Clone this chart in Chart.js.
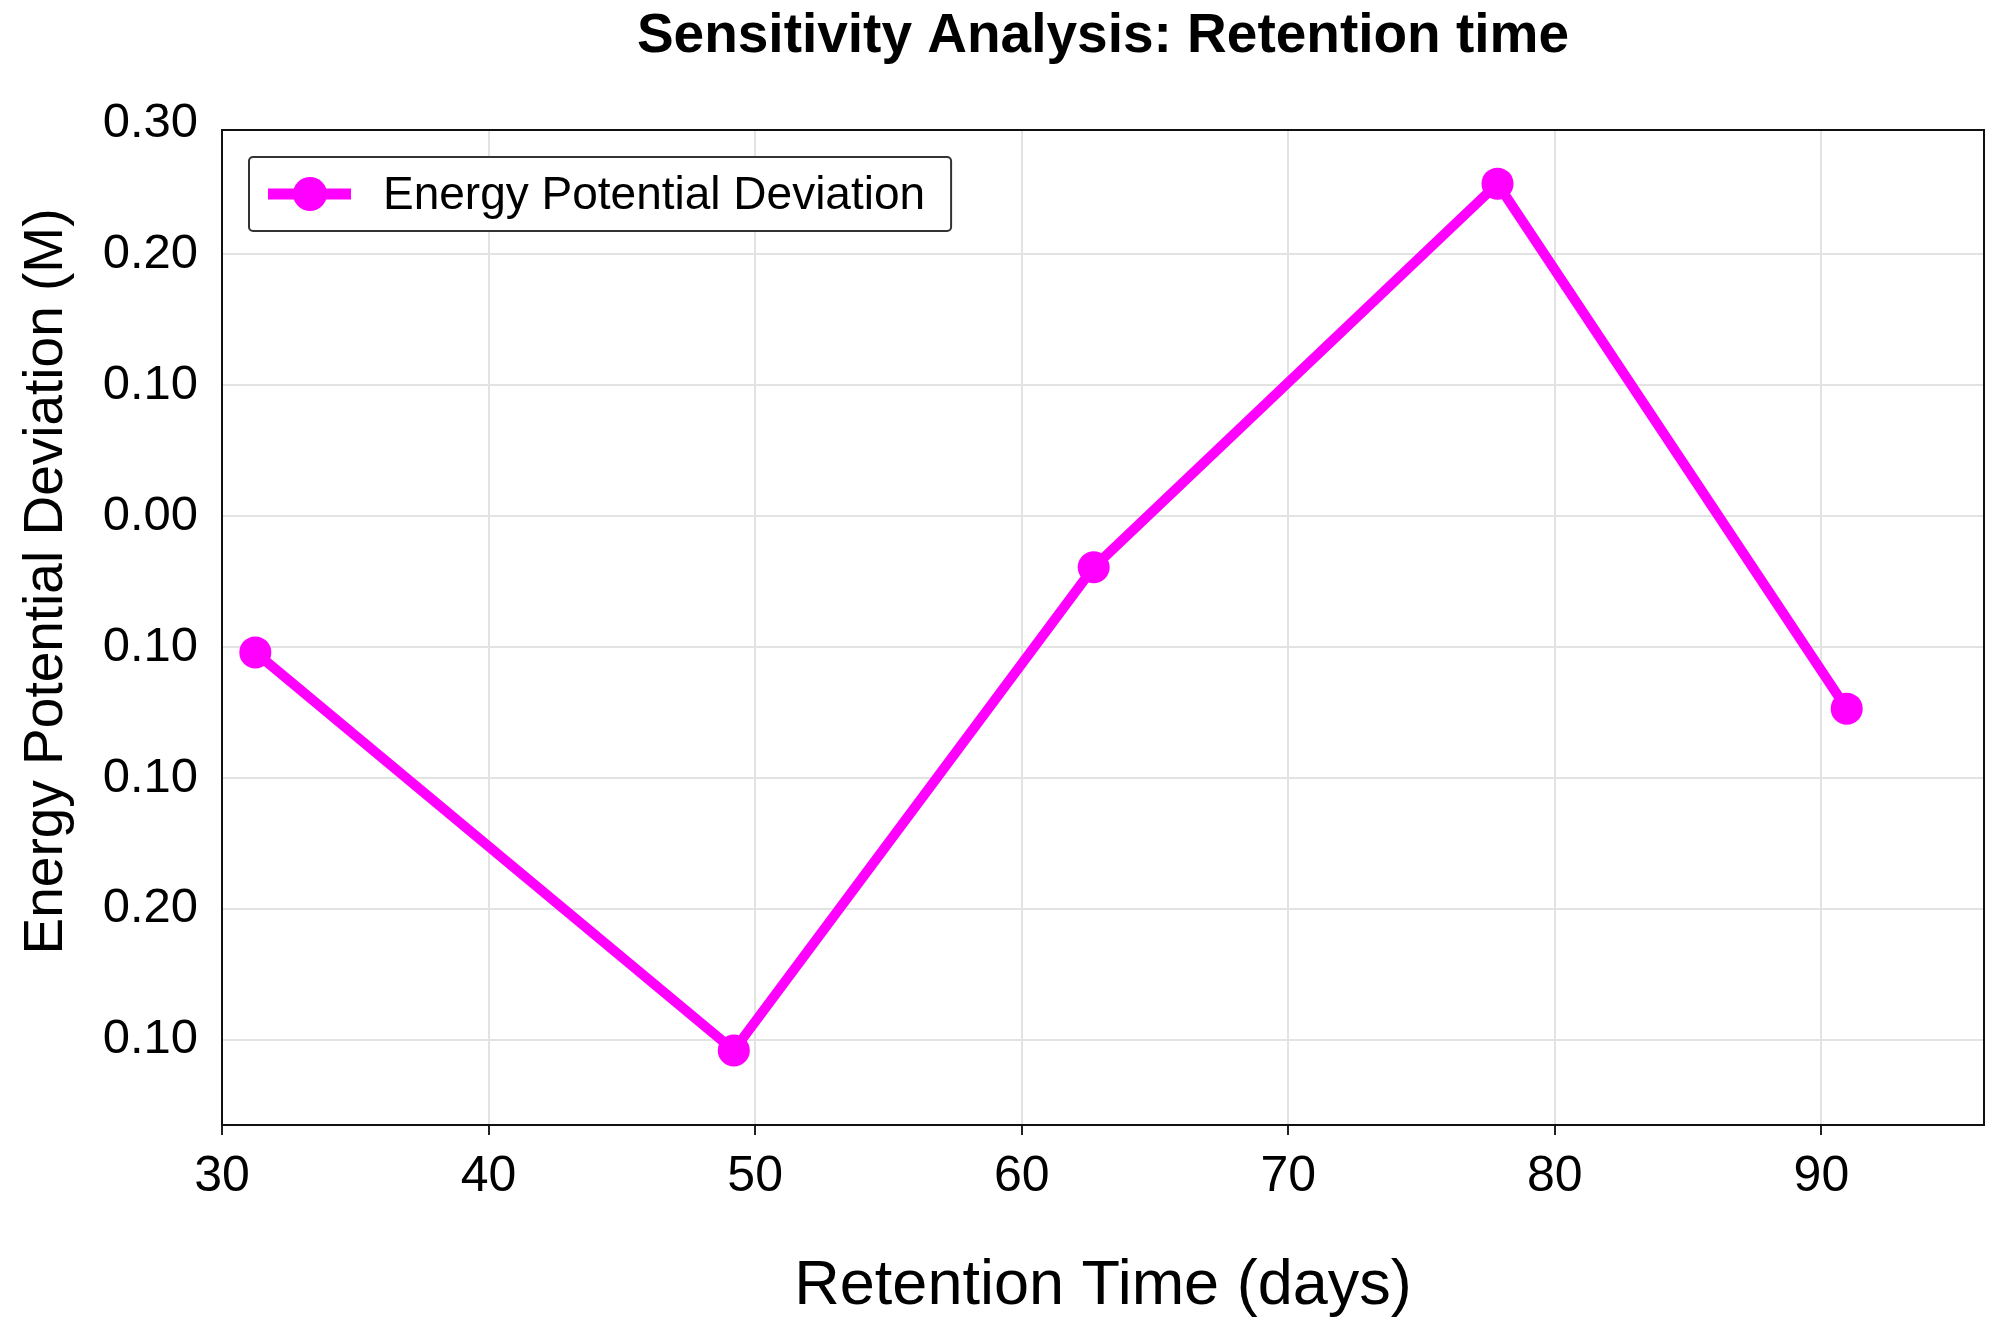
<!DOCTYPE html>
<html>
<head>
<meta charset="utf-8">
<script src="https://cdn.jsdelivr.net/npm/chart.js@4"></script>
<style>
  html, body { margin: 0; padding: 0; background: #fff; }
  #chart { display: block; }
</style>
</head>
<body>
<canvas id="chart" width="2000" height="1331"></canvas>
<script>
// data
var retentionDays = [31.25, 49.2, 62.7, 77.85, 90.95];
var deviation = [-0.104, -0.408, -0.039, 0.254, -0.147];
var seriesLabel = 'Energy Potential Deviation';
var yAxisTitle = 'Energy Potential Deviation (M)';
// the source labels the y ticks like this (signs missing)
var yTickValues = [0.3, 0.2, 0.1, 0.0, -0.1, -0.2, -0.3, -0.4];
var yTickLabels = ['0.30', '0.20', '0.10', '0.00', '0.10', '0.10', '0.20', '0.10'];
var xTickValues = [30, 40, 50, 60, 70, 80, 90];

var FONT = "'Liberation Sans', Arial, Helvetica, sans-serif";
var MAGENTA = '#ff00ff';
var GRID = '#e3e3e3';

// frame round the plot, legend box inside it, y title (sits a bit above centre)
const framePlugin = {
    id: 'frame',
    afterDatasetsDraw(chart) {
        const {ctx, chartArea} = chart;
        ctx.save();
        ctx.strokeStyle = '#111';
        ctx.lineWidth = 2;
        ctx.strokeRect(chartArea.left, chartArea.top, chartArea.right - chartArea.left, chartArea.bottom - chartArea.top);

        // legend
        const x = chartArea.left + 27, y = chartArea.top + 27;
        ctx.font = '46px ' + FONT;
        const tw = ctx.measureText(seriesLabel).width;
        const w = 134 + tw + 26, h = 74;
        ctx.fillStyle = '#fff';
        ctx.beginPath();
        ctx.roundRect(x, y, w, h, 4);
        ctx.fill();
        ctx.strokeStyle = '#333';
        ctx.lineWidth = 2;
        ctx.stroke();
        const cy = y + h / 2;
        ctx.strokeStyle = MAGENTA;
        ctx.lineWidth = 11;
        ctx.beginPath();
        ctx.moveTo(x + 19, cy);
        ctx.lineTo(x + 102, cy);
        ctx.stroke();
        ctx.fillStyle = MAGENTA;
        ctx.beginPath();
        ctx.arc(x + 61, cy, 17, 0, Math.PI * 2);
        ctx.fill();
        ctx.fillStyle = '#000';
        ctx.textBaseline = 'middle';
        ctx.fillText(seriesLabel, x + 134, cy + 2);

        // y axis title
        ctx.font = '55px ' + FONT;
        ctx.textAlign = 'center';
        ctx.translate(47, (chartArea.top + chartArea.bottom) / 2 - 46);
        ctx.rotate(-Math.PI / 2);
        ctx.fillText(yAxisTitle, 0, 0);
        ctx.restore();
    }
};

var ctx = document.getElementById("chart").getContext("2d");
var chart = new Chart(ctx, {
    type: 'line',
    data: {
        datasets: [{
            label: seriesLabel,
            data: retentionDays.map(function (d, i) { return {x: d, y: deviation[i]}; }),
            borderColor: MAGENTA,
            backgroundColor: MAGENTA,
            borderWidth: 10,
            pointRadius: 16,
            pointHoverRadius: 16,
            pointBorderWidth: 0,
            tension: 0,
        }]
    },
    plugins: [framePlugin],
    options: {
        responsive: false,
        animation: false,
        devicePixelRatio: 1,
        layout: { padding: { left: 0, right: 15, top: 0, bottom: 0 } },
        plugins: {
            legend: { display: false },
            tooltip: { enabled: false },
            title: {
                display: true,
                fullSize: false,
                text: 'Sensitivity Analysis: Retention time',
                color: '#000',
                font: { family: FONT, size: 55, weight: 'bold' },
                padding: { top: 4, bottom: 60 }
            }
        },
        scales: {
            x: {
                type: 'linear',
                min: 30,
                max: 96.1,
                afterBuildTicks: function (axis) {
                    axis.ticks = xTickValues.map(function (v) { return {value: v}; });
                },
                afterFit: function (axis) { axis.height = 206; },
                grid: { color: GRID, lineWidth: 2, tickLength: 10, tickColor: '#222', tickWidth: 2 },
                border: { display: false },
                ticks: {
                    color: '#000',
                    padding: 12,
                    maxRotation: 0,
                    font: { family: FONT, size: 50 }
                },
                title: {
                    display: true,
                    text: 'Retention Time (days)',
                    color: '#000',
                    font: { family: FONT, size: 63 },
                    padding: { top: 7, bottom: 7 }
                }
            },
            y: {
                type: 'linear',
                min: -0.465,
                max: 0.295,
                afterBuildTicks: function (axis) {
                    axis.ticks = yTickValues.map(function (v) { return {value: v}; });
                },
                afterFit: function (axis) { axis.width = 222; },
                grid: {
                    color: function (c) { return c.tick && c.tick.value > 0.29 ? 'rgba(0,0,0,0)' : GRID; },
                    lineWidth: 2,
                    drawTicks: false
                },
                border: { display: false },
                ticks: {
                    color: '#000',
                    padding: 24,
                    font: { family: FONT, size: 49 },
                    callback: function (value) {
                        var i = Math.round((0.3 - value) / 0.1);
                        return yTickLabels[i];
                    }
                },
                title: { display: false }
            }
        }
    }
});
</script>
</body>
</html>
